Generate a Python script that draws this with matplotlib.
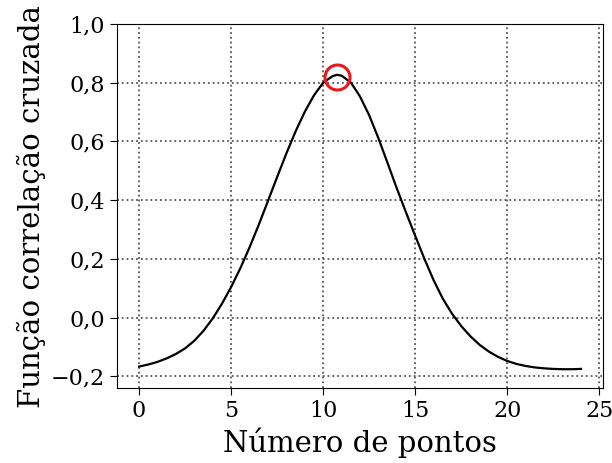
import matplotlib
matplotlib.use('Agg')
from matplotlib import pyplot as plt

# correlação cruzada lida em passos de meio ponto (mais o pico)
pontos = [0, 0.5, 1, 1.5, 2, 2.5, 3, 3.5, 4, 4.5, 5, 5.5, 6, 6.5, 7, 7.5, 8, 8.5,
          9, 9.5, 10, 10.5, 10.75, 11, 11.5, 12, 12.5, 13, 13.5, 14, 14.5, 15,
          15.5, 16, 16.5, 17, 17.5, 18, 18.5, 19, 19.5, 20, 20.5, 21, 21.5, 22,
          22.5, 23, 23.5, 24]
correlacao = [-0.167, -0.160, -0.151, -0.139, -0.124, -0.105, -0.079, -0.045,
              -0.003, 0.047, 0.104, 0.168, 0.239, 0.316, 0.397, 0.479, 0.559,
              0.634, 0.701, 0.757, 0.800, 0.822, 0.827, 0.824, 0.801, 0.753,
              0.689, 0.611, 0.526, 0.440, 0.358, 0.278, 0.200, 0.127, 0.064,
              0.013, -0.029, -0.064, -0.093, -0.116, -0.134, -0.148, -0.158,
              -0.165, -0.170, -0.173, -0.175, -0.176, -0.176, -0.175]
pico_x = 10.75
pico_y = 0.818

yticks = [-0.2, 0.0, 0.2, 0.4, 0.6, 0.8, 1.0]
ylabels = ['\u22120,2', '0,0', '0,2', '0,4', '0,6', '0,8', '1,0']
xticks = [0, 5, 10, 15, 20, 25]

plt.rcParams['font.family'] = 'DejaVu Serif'

fig = plt.figure(figsize=(6.12, 4.63), dpi=100)
ax = fig.add_axes([117/612, 1-388/463, (603-117)/612, (388-24)/463])

ax.plot(pontos, correlacao, c='black', lw=1.6)
ax.plot([pico_x], [pico_y], 'o', ms=18, mfc='none', mec='#e8181c', mew=2.2)

ax.set_xticks(xticks)
ax.set_yticks(yticks)
ax.set_yticklabels(ylabels)
ax.set_ylim(-0.24, 1.0)
ax.set_xlim(-1.2, 25.2)
ax.grid(True, linestyle=':', color='#555555', lw=1.3)
ax.tick_params(axis='both', labelsize=16, length=5)

ax.set_xlabel('Número de pontos', fontsize=21)
ax.set_ylabel('Função correlação cruzada', fontsize=21)

fig.savefig('out.png', dpi=100)
